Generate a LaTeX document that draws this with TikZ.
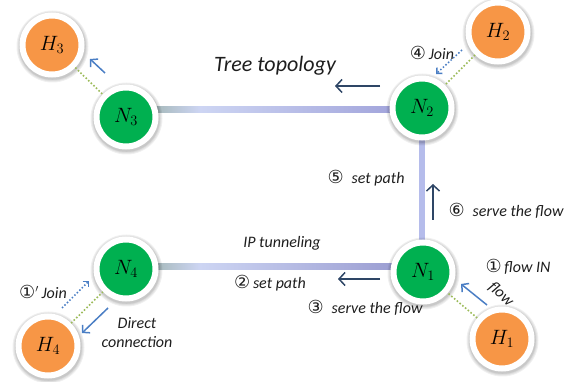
\documentclass[tikz,border=0pt]{standalone}
\usepackage{fontspec}
\setmainfont{Carlito}
\newfontfamily\circfont{DejaVu Sans}
\usetikzlibrary{arrows.meta,backgrounds}
\definecolor{ngreen}{HTML}{00B050}
\definecolor{horange}{HTML}{F79646}
\definecolor{dotgreen}{HTML}{9BBB59}
\definecolor{arrblue}{HTML}{4A7EC4}
\definecolor{navy}{HTML}{2E4666}
\definecolor{barA}{HTML}{8EA898}
\definecolor{barB}{HTML}{CDD5F3}
\definecolor{barC}{HTML}{9C9ED8}
\definecolor{barV}{HTML}{B5BCEB}
\definecolor{txt}{HTML}{1E1E1E}
\newcommand{\cd}[1]{{\circfont\fontsize{18}{20}\selectfont #1}}
\tikzset{
  netnode/.style={circle, minimum size=59pt, inner sep=0pt, draw=white, line width=6pt,
    font=\fontsize{20}{24}\selectfont},
  nnode/.style={netnode, fill=ngreen},
  hnode/.style={netnode, fill=horange},
  halo/.style={black, opacity=0.06},
  dotlink/.style={dotgreen, line width=1.6pt, dotted},
  barr/.style={arrblue, line width=1.5pt, -{Straight Barb[length=5pt,width=11pt]}},
  barrdot/.style={arrblue, line width=1.5pt, dotted, -{Straight Barb[length=4pt,width=8pt]}},
  narr/.style={navy, line width=1.5pt, -{Straight Barb[length=6pt,width=13pt]}},
  lbl/.style={font=\fontsize{16}{19}\selectfont\itshape, text=txt, inner sep=0pt}
}
\begin{document}
\begin{tikzpicture}[x=1pt,y=-1pt]
\useasboundingbox (0,0) rectangle (582,382);
% nodes
\node[hnode] (H3) at (52,45) {$H_3$};
\node[nnode] (N3) at (126,117) {$N_3$};
\node[nnode] (N2) at (422,108) {$N_2$};
\node[hnode] (H2) at (498,32) {$H_2$};
\node[nnode] (N1) at (423,272) {$N_1$};
\node[hnode] (H1) at (502,339) {$H_1$};
\node[nnode] (N4) at (126,269) {$N_4$};
\node[hnode] (H4) at (48,346) {$H_4$};
% links and halos on background
\begin{scope}[on background layer]
\coordinate (m32) at (200,110);
\coordinate (m41) at (200,267);
\shade[left color=barA, right color=barB] ([yshift=10pt]N3.center) rectangle ([yshift=-3pt]m32);
\shade[left color=barB, right color=barC] ([yshift=3pt]m32) rectangle ([yshift=-5pt]N2.center);
\shade[left color=barA, right color=barB] ([yshift=5pt]N4.center) rectangle ([yshift=-3pt]m41);
\shade[left color=barB, right color=barC!95!black] ([yshift=3pt]m41) rectangle ([yshift=2pt]N1.center);
\fill[barV] ([xshift=-3pt]N2.center) rectangle ([xshift=2pt]N1.center);
\foreach \n in {H1,H2,H3,H4,N1,N2,N3,N4}{
  \fill[halo] ([xshift=0.5pt,yshift=-1.5pt]\n.center) circle[radius=36pt];
  \fill[halo] ([xshift=0.5pt,yshift=-1.5pt]\n.center) circle[radius=35pt];
  \fill[halo] ([xshift=0.5pt,yshift=-1.5pt]\n.center) circle[radius=34pt];
  \fill[halo] ([xshift=0.5pt,yshift=-1.5pt]\n.center) circle[radius=33.3pt];
}
\end{scope}
\draw[dotlink] (H3) -- (N3);
\draw[dotlink] (H2) -- (N2);
\draw[dotlink] (H1) -- (N1);
\draw[dotlink] (H4) -- (N4);
% arrows
\coordinate (a1s) at (105,73); \coordinate (a1e) at (90,59);
\coordinate (a2s) at (380,86); \coordinate (a2e) at (335,86);
\coordinate (a3s) at (462,50); \coordinate (a3e) at (436,74);
\coordinate (a4s) at (433,220); \coordinate (a4e) at (433,184);
\coordinate (a5s) at (380,279); \coordinate (a5e) at (338,279);
\coordinate (a6s) at (487,305); \coordinate (a6e) at (461,284);
\coordinate (a7s) at (62,308); \coordinate (a7e) at (89,281);
\coordinate (a8s) at (108,308); \coordinate (a8e) at (82,333);
\draw[barr] (a1s) -- (a1e);
\draw[narr] (a2s) -- (a2e);
\draw[barrdot] (a3s) -- (a3e);
\draw[narr] (a4s) -- (a4e);
\draw[narr] (a5s) -- (a5e);
\draw[barr] (a6s) -- (a6e);
\draw[barrdot] (a7s) -- (a7e);
\draw[barr] (a8s) -- (a8e);
% labels
\node[lbl, font=\fontsize{22}{26}\selectfont\itshape] (tt) at (275,66) {Tree topology};
\node[lbl] (l4) at (432,53) {\cd{④}\,Join};
\node[lbl] (l5) at (366,178) {\cd{⑤}\; set path};
\node[lbl] (l6) at (506,211) {\cd{⑥}\; serve the flow};
\node[lbl] (lip) at (282,243) {IP tunneling};
\node[lbl] (l2) at (270,283) {\cd{②}\,set path};
\node[lbl] (l3) at (365,308) {\cd{③}\; serve the flow};
\node[lbl] (l1) at (518,267) {\cd{①}\,flow IN};
\node[lbl, rotate=-42] (lf) at (501,294) {flow};
\node[lbl] (l1p) at (43,292) {\cd{①}$'$\,Join};
\node[lbl, align=center, font=\fontsize{16}{19}\selectfont\itshape] (ldc) at (137,333) {Direct\\connection};
\end{tikzpicture}
\end{document}
